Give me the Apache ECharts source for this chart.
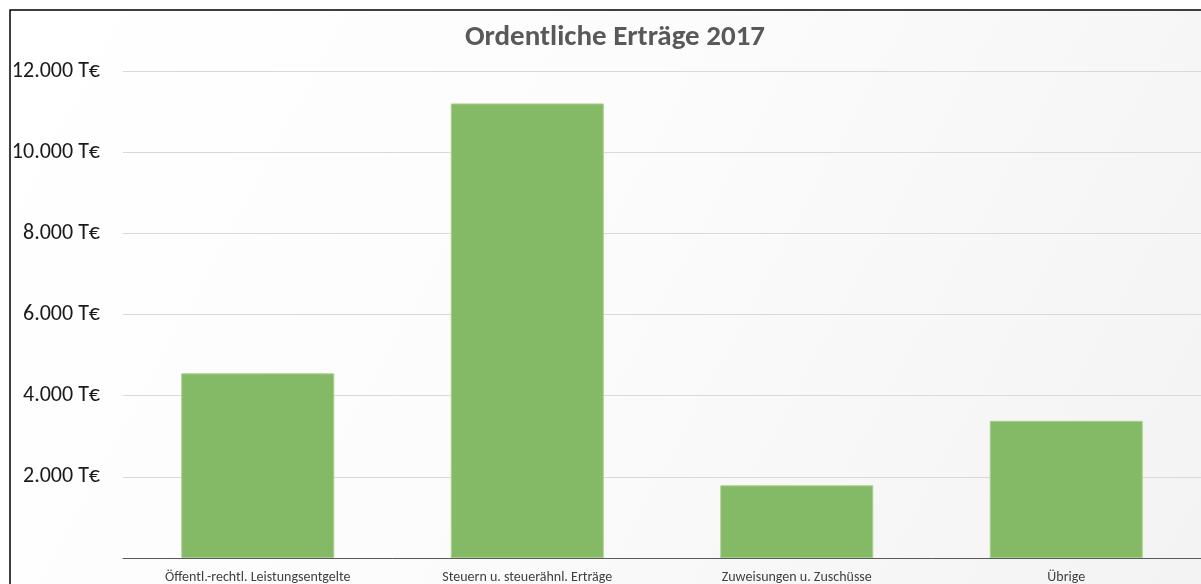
<!DOCTYPE html>
<html>
<head>
<meta charset="utf-8">
<title>Ordentliche Erträge 2017</title>
<script src="https://cdn.jsdelivr.net/npm/echarts@6/dist/echarts.min.js"></script>
<style>
  html, body { margin: 0; padding: 0; background: #fff; }
  #main { width: 1201px; height: 584px; }
</style>
</head>
<body>
<div id="main"></div>
<script>
// Daten (in T€)
var kategorien = ['Öffentl.-rechtl. Leistungsentgelte', 'Steuern u. steuerähnl. Erträge', 'Zuweisungen u. Zuschüsse', 'Übrige'];
var ertraege = [4550, 11200, 1790, 3380];
var achseMax = 12000;
var achseSchritt = 2000;

// Tausenderpunkt + Einheit
function formatEuro(v) {
  if (v === 0) return '';
  return String(v).replace(/\B(?=(\d{3})+(?!\d))/g, '.') + ' T€';
}

var schrift = 'Calibri, Carlito, Lato, sans-serif';
var myChart = echarts.init(document.getElementById('main'));

var option = {
  animation: false,
  backgroundColor: '#fff',
  graphic: [{
    // Rahmen + Hintergrund des Diagrammbereichs
    type: 'rect',
    z: -10,
    silent: true,
    shape: { x: 10, y: 10, width: 1300, height: 700 },
    style: {
      fill: new echarts.graphic.LinearGradient(0, 0, 1, 1, [
        { offset: 0, color: '#ffffff' },
        { offset: 0.4, color: '#fcfcfc' },
        { offset: 1, color: '#f1f1f1' }
      ]),
      stroke: '#000',
      lineWidth: 1.5
    }
  }],
  title: {
    text: 'Ordentliche Erträge 2017',
    left: 610,
    top: 18,
    textAlign: 'center',
    textStyle: { fontFamily: schrift, fontSize: 29, fontWeight: 'bold', color: '#595959' }
  },
  grid: { left: 123, right: -2, top: 71, bottom: 25, containLabel: false },
  xAxis: {
    type: 'category',
    data: kategorien,
    axisTick: { show: false },
    axisLine: { lineStyle: { color: '#595959', width: 1 } },
    axisLabel: { interval: 0, margin: 12, fontFamily: schrift, fontSize: 14, color: '#404040' }
  },
  yAxis: {
    type: 'value',
    min: 0,
    max: achseMax,
    interval: achseSchritt,
    axisLine: { show: false },
    axisTick: { show: false },
    splitLine: { lineStyle: { color: '#d9d9d9', width: 1 } },
    axisLabel: { formatter: formatEuro, margin: 23, fontFamily: schrift, fontSize: 22, color: '#1a1a1a' }
  },
  series: [{
    type: 'bar',
    data: ertraege,
    barWidth: 153,
    itemStyle: { color: '#84b965', borderColor: '#a8d08d', borderWidth: 1 }
  }]
};
myChart.setOption(option);
</script>
</body>
</html>
